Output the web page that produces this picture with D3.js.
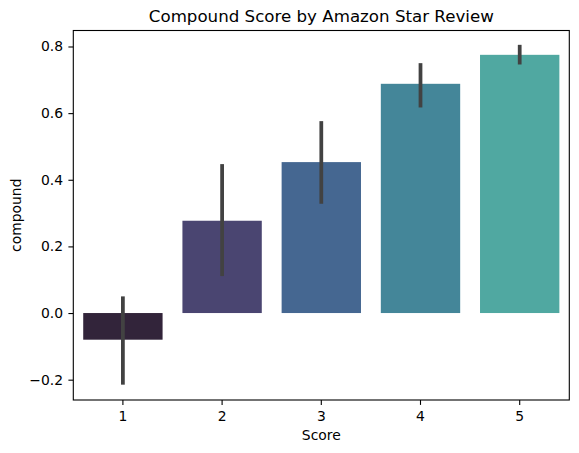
<!DOCTYPE html>
<html>
<head>
<meta charset="utf-8">
<script src="https://cdn.jsdelivr.net/npm/d3@7"></script>
<style>
  html, body { margin: 0; padding: 0; background: #fff; }
  svg { display: block; }
  text { font-family: "DejaVu Sans", sans-serif; fill: #000; }
</style>
</head>
<body>
<svg id="chart" width="579" height="453"></svg>
<script>
// Data.
var scores = ['1', '2', '3', '4', '5'];
var compound = [-0.08, 0.277, 0.453, 0.688, 0.775];
var ciLow = [-0.215, 0.111, 0.328, 0.617, 0.746];
var ciHigh = [0.05, 0.447, 0.576, 0.75, 0.805];
var barColors = ['#32243a', '#4a4571', '#456791', '#448699', '#50a8a1'];
var yTicks = [-0.2, 0, 0.2, 0.4, 0.6, 0.8];

// Constants.
var kLeft = 73.3;
var kRight = 569.3;
var kTop = 30.5;
var kBottom = 400;
var kTickLength = 4.9;
var kFontSize = 13.9;

var svg = d3.select('#chart');

var x = d3.scaleBand()
  .domain(scores)
  .range([kLeft, kRight])
  .paddingInner(0.2)
  .paddingOuter(0.1);

var y = d3.scaleLinear()
  .domain([-0.261, 0.848])
  .range([kBottom, kTop]);

// Bars.
svg.selectAll('rect.bar')
  .data(scores)
  .enter().append('rect')
  .attr('class', 'bar')
  .attr('x', function(d) { return x(d); })
  .attr('width', x.bandwidth())
  .attr('y', function(d, i) { return y(Math.max(0, compound[i])); })
  .attr('height', function(d, i) { return Math.abs(y(compound[i]) - y(0)); })
  .attr('fill', function(d, i) { return barColors[i]; });

// Error bars.
svg.selectAll('line.err')
  .data(scores)
  .enter().append('line')
  .attr('class', 'err')
  .attr('x1', function(d) { return x(d) + x.bandwidth() / 2; })
  .attr('x2', function(d) { return x(d) + x.bandwidth() / 2; })
  .attr('y1', function(d, i) { return y(ciLow[i]); })
  .attr('y2', function(d, i) { return y(ciHigh[i]); })
  .attr('stroke', '#424242')
  .attr('stroke-width', 3.75);

// Axes.
function StyleAxis(g)
{
  g.selectAll('.domain').remove();
  g.selectAll('line').attr('stroke', '#000').attr('stroke-width', 1.1);
  g.selectAll('text').attr('font-size', kFontSize).attr('font-family', null);
}

svg.append('g')
  .attr('transform', 'translate(0,' + kBottom + ')')
  .call(d3.axisBottom(x).tickSize(kTickLength).tickPadding(6))
  .call(StyleAxis);

svg.append('g')
  .attr('transform', 'translate(' + kLeft + ',0)')
  .call(d3.axisLeft(y)
    .tickValues(yTicks)
    .tickSize(kTickLength)
    .tickPadding(5.4)
    .tickFormat(function(d) { return d3.format('.1f')(d).replace('-', '\u2212'); }))
  .call(StyleAxis);

// Frame.
svg.append('rect')
  .attr('x', kLeft)
  .attr('y', kTop)
  .attr('width', kRight - kLeft)
  .attr('height', kBottom - kTop)
  .attr('fill', 'none')
  .attr('stroke', '#000')
  .attr('stroke-width', 1.1);

// Labels.
svg.append('text')
  .attr('x', (kLeft + kRight) / 2)
  .attr('y', 22)
  .attr('text-anchor', 'middle')
  .attr('font-size', 16.67)
  .text('Compound Score by Amazon Star Review');

svg.append('text')
  .attr('x', (kLeft + kRight) / 2)
  .attr('y', 440)
  .attr('text-anchor', 'middle')
  .attr('font-size', kFontSize)
  .text('Score');

svg.append('text')
  .attr('transform', 'translate(21,' + (kTop + kBottom) / 2 + ') rotate(-90)')
  .attr('text-anchor', 'middle')
  .attr('font-size', kFontSize)
  .text('compound');
</script>
</body>
</html>
